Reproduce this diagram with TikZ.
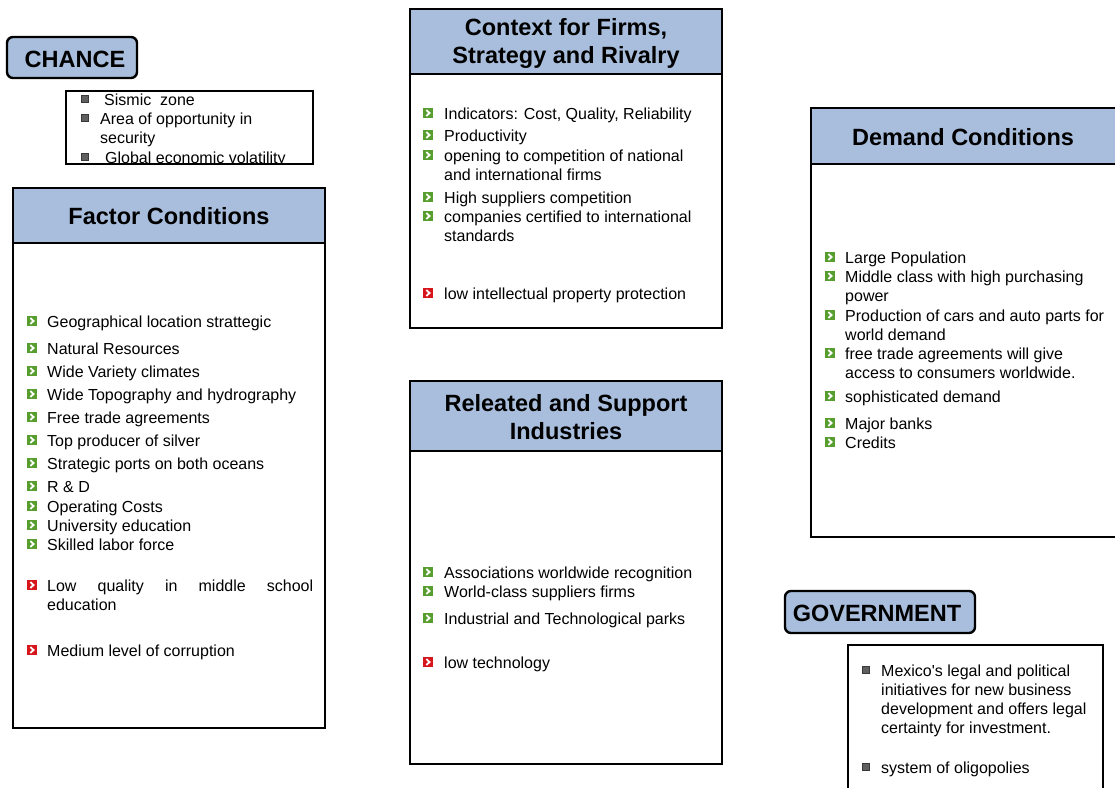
\documentclass[tikz,border=0pt]{standalone}
\usepackage{fontspec}
\setmainfont{Liberation Sans}
\definecolor{hdrblue}{RGB}{168,190,220}
\definecolor{okgreen}{RGB}{88,158,46}
\definecolor{badred}{RGB}{214,22,27}
\definecolor{sqgray}{RGB}{95,95,95}
\begin{document}
\begin{tikzpicture}[x=1pt,y=-1pt,
  frame/.style={draw=black,line width=2pt},
  hdr/.style={fill=hdrblue,draw=black,line width=2pt},
  tag/.style={fill=hdrblue,draw=black,line width=2.4pt,rounded corners=6pt},
  title/.style={font=\fontsize{23.5}{28}\selectfont\bfseries,align=center,inner sep=0pt},
  item/.style={anchor=base west,inner sep=0pt,align=left,yshift=-1pt,font=\fontsize{16}{19.3}\selectfont},
  chev/.style={minimum size=10.5pt,inner sep=0pt,
    path picture={\draw[white,line width=1.8pt,shift={(path picture bounding box.center)}]
      (-1.6,-3) -- (1.5,0) -- (-1.6,3);}},
  gbul/.style={chev,fill=okgreen},
  rbul/.style={chev,fill=badred},
  sbul/.style={fill=sqgray,draw=sqgray!60!black,line width=0.6pt,minimum size=7pt,inner sep=0pt}]
\useasboundingbox (0,0) rectangle (1115,787);
\fill[white] (0,0) rectangle (1115,787);
% multi-line items are anchored on the baseline of their last line

% ---------- CHANCE ----------
\draw[tag] (7,37) rectangle (137,78);
\node[title] (chanceT) at (75,59) {CHANCE};
\begin{scope}
\clip (66,91) rectangle (313,164);
\node[sbul] (c1b) at (85,99) {};
\node[item] (c1) at (104,104) {Sismic\ \ zone};
\node[sbul] (c2b) at (85,118) {};
\node[item] (c2) at (100,142.3) {Area of opportunity in\\security};
\node[sbul] (c3b) at (85,157) {};
\node[item] (c3) at (105,162) {Global economic volatility};
\end{scope}
\draw[frame] (66,91) rectangle (313,164);

% ---------- Factor Conditions ----------
\draw[frame] (13,188) rectangle (325,728);
\draw[hdr] (13,188) rectangle (325,243);
\node[title] (factT) at (169,216) {Factor Conditions};
\node[gbul] (f1b) at (32,321) {};  \node[item] (f1) at (47,326) {Geographical location strattegic};
\node[gbul] (f2b) at (32,348) {};  \node[item] (f2) at (47,353) {Natural Resources};
\node[gbul] (f3b) at (32,371) {};  \node[item] (f3) at (47,376) {Wide Variety climates};
\node[gbul] (f4b) at (32,394) {};  \node[item] (f4) at (47,399) {Wide Topography and hydrography};
\node[gbul] (f5b) at (32,417) {};  \node[item] (f5) at (47,422) {Free trade agreements};
\node[gbul] (f6b) at (32,440) {};  \node[item] (f6) at (47,445) {Top producer of silver};
\node[gbul] (f7b) at (32,463) {};  \node[item] (f7) at (47,468) {Strategic ports on both oceans};
\node[gbul] (f8b) at (32,486) {};  \node[item] (f8) at (47,491) {R \& D};
\node[gbul] (f9b) at (32,506) {};  \node[item] (f9) at (47,511) {Operating Costs};
\node[gbul] (f10b) at (32,525) {}; \node[item] (f10) at (47,530) {University education};
\node[gbul] (f11b) at (32,544) {}; \node[item] (f11) at (47,549) {Skilled labor force};
\node[rbul] (f12b) at (32,585) {}; \node[item] (f12) at (47,609.3) {\makebox[266pt][s]{Low quality in middle school}\\education};
\node[rbul] (f13b) at (32,650) {}; \node[item] (f13) at (47,655) {Medium level of corruption};

% ---------- Context for Firms, Strategy and Rivalry ----------
\draw[frame] (410,9) rectangle (722,328);
\draw[hdr] (410,9) rectangle (722,74);
\node[title] (ctxT) at (566,43) {Context for Firms,\\Strategy and Rivalry};
\node[gbul] (k1b) at (428,113) {}; \node[item] (k1) at (444,118) {Indicators: Cost, Quality, Reliability};
\node[gbul] (k2b) at (428,135) {}; \node[item] (k2) at (444,140) {Productivity};
\node[gbul] (k3b) at (428,155) {}; \node[item] (k3) at (444,179.3) {opening to competition of national\\and international firms};
\node[gbul] (k4b) at (428,197) {}; \node[item] (k4) at (444,202) {High suppliers competition};
\node[gbul] (k5b) at (428,216) {}; \node[item] (k5) at (444,240.3) {companies certified to international\\standards};
\node[rbul] (k6b) at (428,293) {}; \node[item] (k6) at (444,298) {low intellectual property protection};

% ---------- Related and Support Industries ----------
\draw[frame] (410,381) rectangle (722,764);
\draw[hdr] (410,381) rectangle (722,451);
\node[title] (relT) at (566,417) {Releated and Support\\Industries};
\node[gbul] (r1b) at (428,572) {}; \node[item] (r1) at (444,577) {Associations worldwide recognition};
\node[gbul] (r2b) at (428,591) {}; \node[item] (r2) at (444,596) {World-class suppliers firms};
\node[gbul] (r3b) at (428,618) {}; \node[item] (r3) at (444,623) {Industrial and Technological parks};
\node[rbul] (r4b) at (428,662) {}; \node[item] (r4) at (444,667) {low technology};

% ---------- Demand Conditions ----------
\draw[frame] (811,108) rectangle (1125,537);
\draw[hdr] (811,108) rectangle (1125,164);
\node[title] (demT) at (963,137) {Demand Conditions};
\node[gbul] (d1b) at (830,257) {}; \node[item] (d1) at (845,262) {Large Population};
\node[gbul] (d2b) at (830,276) {}; \node[item] (d2) at (845,300.3) {Middle class with high purchasing\\power};
\node[gbul] (d3b) at (830,315) {}; \node[item] (d3) at (845,339.3) {Production of cars and auto parts for\\world demand};
\node[gbul] (d4b) at (830,353) {}; \node[item] (d4) at (845,377.3) {free trade agreements will give\\access to consumers worldwide.};
\node[gbul] (d5b) at (830,396) {}; \node[item] (d5) at (845,401) {sophisticated demand};
\node[gbul] (d6b) at (830,423) {}; \node[item] (d6) at (845,428) {Major banks};
\node[gbul] (d7b) at (830,442) {}; \node[item] (d7) at (845,447) {Credits};

% ---------- GOVERNMENT ----------
\draw[tag] (785,591) rectangle (975,633);
\node[title] (govT) at (877,613) {GOVERNMENT};
\draw[frame] (848,645) rectangle (1103,800);
\node[sbul] (g1b) at (866,670) {}; \node[item] (g1) at (881,732.9) {Mexico\textquotesingle s legal and political\\initiatives for new business\\development and offers legal\\certainty for investment.};
\node[sbul] (g2b) at (866,767) {}; \node[item] (g2) at (881,772) {system of oligopolies};
\end{tikzpicture}
\end{document}
